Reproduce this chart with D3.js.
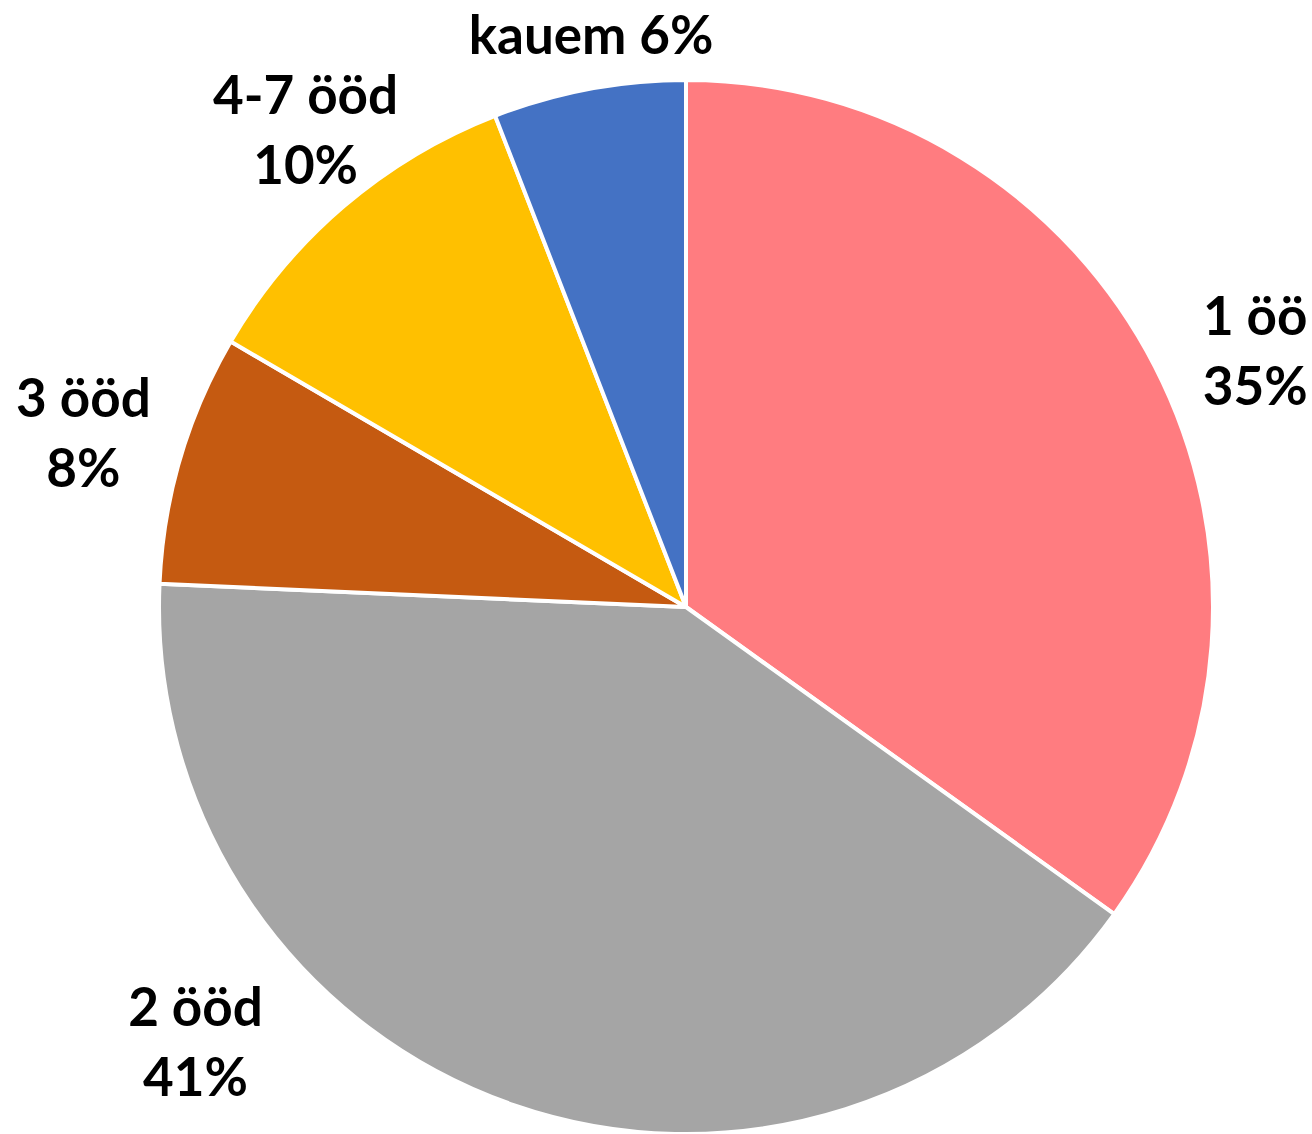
<!DOCTYPE html>
<html lang="en">
<head>
    <meta charset="utf-8">
    <script src="https://d3js.org/d3.v7.min.js"></script>
</head>
<style>
    body { margin: 0; background: #fff; }
    .lbl { font-family: Lato, "Open Sans", sans-serif; font-weight: bold; font-size: 53px; fill: #000; }
</style>
<body>
    <script>
        const w = 1312
        const h = 1134

        // slices, clockwise from 12 o'clock
        const categories = ["1 öö", "2 ööd", "3 ööd", "4-7 ööd", "kauem"]
        const shares = [34.9, 40.8, 7.7, 10.7, 5.9]
        const pctLabels = ["35%", "41%", "8%", "10%", "6%"]
        const colors = ["#FF7C80", "#A5A5A5", "#C55A11", "#FFC000", "#4472C4"]

        const cx = 686, cy = 607, r = 527

        var svg = d3.select("body")
            .append("svg")
            .attr("width", w)
            .attr("height", h)

        const pie = d3.pie().sort(null).value(d => d)
        const arcs = pie(shares)

        const arc = d3.arc().innerRadius(0).outerRadius(r)

        const g = svg.append("g").attr("transform", `translate(${cx},${cy})`)

        g.selectAll("path")
            .data(arcs)
            .enter()
            .append("path")
            .attr("d", arc)
            .attr("fill", (d, i) => colors[i])
            .attr("stroke", "#fff")
            .attr("stroke-width", 4)
            .attr("stroke-linejoin", "round")

        // where excel put the labels: angle tweak (deg) from slice middle, radius factor
        const labelPlace = [[3, 1.184], [29.3, 1.245], [-0.3, 1.19], [1.9, 1.157], [1.2, 1.10]]
        const lineGap = 70

        arcs.forEach((d, i) => {
            const mid = (d.startAngle + d.endAngle) / 2 + labelPlace[i][0] * Math.PI / 180
            const dist = r * labelPlace[i][1]
            const x = Math.sin(mid) * dist
            const y = -Math.cos(mid) * dist
            const t = g.append("text")
                .attr("class", "lbl")
                .attr("text-anchor", "middle")
            if (categories[i] == "kauem") {
                // one line only
                t.attr("x", x).attr("y", y + 18.5).text(categories[i] + " " + pctLabels[i])
            } else {
                const top = y - (lineGap + 37) / 2 + 37
                t.append("tspan").attr("x", x).attr("y", top).text(categories[i])
                t.append("tspan").attr("x", x).attr("y", top + lineGap).text(pctLabels[i])
            }
        })
    </script>
</body>
</html>
